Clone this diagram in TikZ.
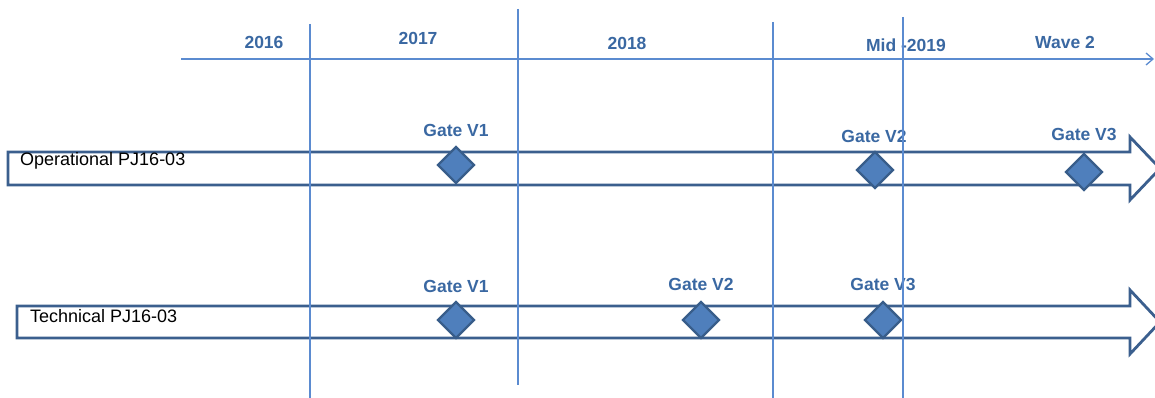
\documentclass[tikz,border=0pt]{standalone}
\usepackage{fontspec}
\setmainfont{Liberation Sans}
\usetikzlibrary{shapes.geometric,arrows.meta}
\definecolor{gridblue}{HTML}{5B8BD0}
\definecolor{labblue}{HTML}{3A68A2}
\definecolor{arrblue}{HTML}{3B5F8E}
\definecolor{diafill}{HTML}{4F7FBC}
\definecolor{diaedge}{HTML}{385D8A}
\tikzset{
  gridline/.style={draw=gridblue, line width=1.3pt},
  yearlab/.style={text=labblue, font=\fontsize{17.5}{20}\selectfont\bfseries, inner sep=0pt},
  gatelab/.style={text=labblue, font=\fontsize{17.5}{20}\selectfont\bfseries, inner sep=0pt},
  rowlab/.style={text=black, font=\fontsize{18}{20}\selectfont, inner sep=0pt, anchor=west},
  gate/.style={diamond, draw=diaedge, fill=diafill, line width=2.4pt, minimum width=37pt, minimum height=37pt, inner sep=0pt},
  bigarrow/.style={draw=arrblue, line width=2.8pt, line join=miter, fill=white}
}
\begin{document}
\begin{tikzpicture}[x=1pt,y=-1pt]
\useasboundingbox (0,0) rectangle (1155,398);
\clip (0,0) rectangle (1155,398);
% timeline axis
\coordinate (axL) at (181,59);
\coordinate (axR) at (1154,59);
\draw[gridline, -{Straight Barb[length=7pt,width=12pt]}] (axL) -- (axR);
% year labels
\node[yearlab] (y16) at (264,42) {2016};
\node[yearlab] (y17) at (418,38) {2017};
\node[yearlab] (y18) at (627,43) {2018};
\node[yearlab] (y19) at (906,45) {Mid -2019};
\node[yearlab] (w2) at (1065,42) {Wave 2};
% big arrows
\draw[bigarrow] (8,152) -- (1130,152) -- (1130,137) -- (1160,168.5) -- (1130,200) -- (1130,185) -- (8,185) -- cycle;
\draw[bigarrow] (17,306) -- (1130,306) -- (1130,290) -- (1160,322) -- (1130,354) -- (1130,338) -- (17,338) -- cycle;
\node[rowlab] (op) at (20,161) {Operational PJ16-03};
\node[rowlab] (te) at (30,316) {Technical PJ16-03};
% gates operational
\node[gate] (o1) at (456,165) {};
\node[gate] (o2) at (875,170) {};
\node[gate] (o3) at (1084,172) {};
\node[gatelab] (o1l) at (456,130) {Gate V1};
\node[gatelab] (o2l) at (874,136) {Gate V2};
\node[gatelab] (o3l) at (1084,134) {Gate V3};
% gates technical
\node[gate] (t1) at (456,320) {};
\node[gate] (t2) at (701,320) {};
\node[gate] (t3) at (883,320) {};
\node[gatelab] (t1l) at (456,286) {Gate V1};
\node[gatelab] (t2l) at (701,284) {Gate V2};
\node[gatelab] (t3l) at (883,284) {Gate V3};
% vertical grid lines
\coordinate (v1t) at (310,24);  \coordinate (v1b) at (310,398);
\coordinate (v2t) at (518,9);   \coordinate (v2b) at (518,385);
\coordinate (v3t) at (773,22);  \coordinate (v3b) at (773,398);
\coordinate (v4t) at (903,17);  \coordinate (v4b) at (903,398);
\draw[gridline] (v1t) -- (v1b);
\draw[gridline] (v2t) -- (v2b);
\draw[gridline] (v3t) -- (v3b);
\draw[gridline] (v4t) -- (v4b);
\end{tikzpicture}
\end{document}
